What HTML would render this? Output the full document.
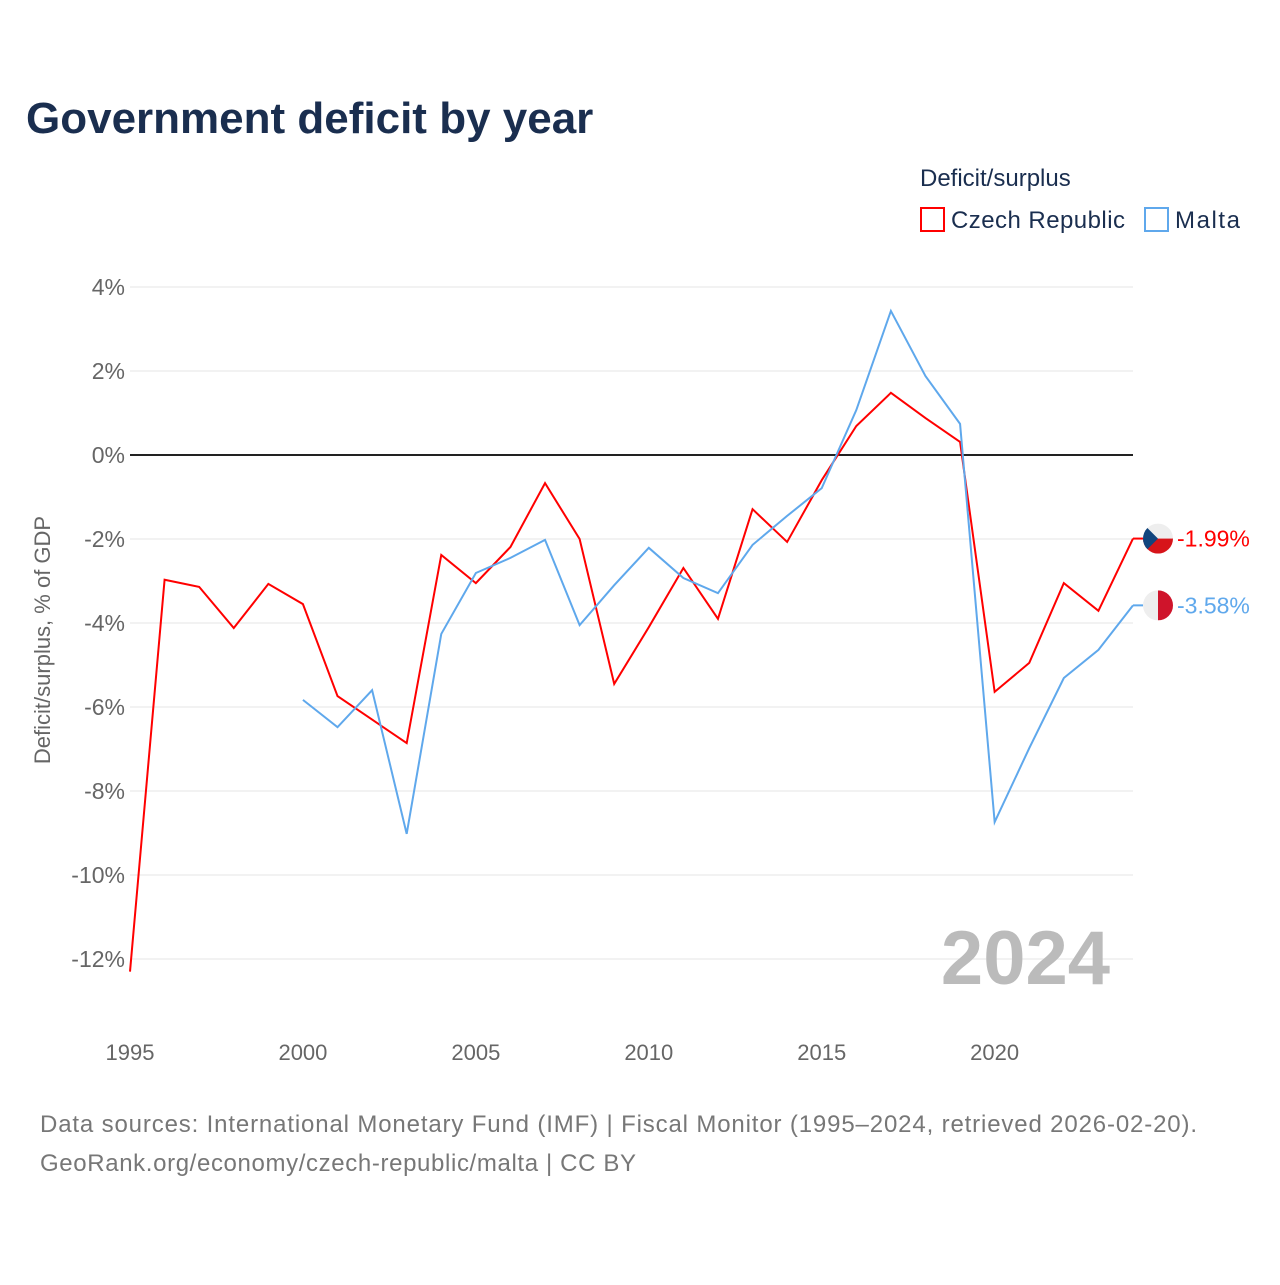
<!DOCTYPE html>
<html><head><meta charset="utf-8"><style>
body{margin:0;background:#fff;font-family:"Liberation Sans",sans-serif;}
#wrap{position:relative;width:1280px;height:1280px;}
</style></head><body>
<div id="wrap">
<svg id="svg" width="1280" height="1280">
<text x="26" y="133" font-size="44" font-weight="bold" fill="#1a2e4f">Government deficit by year</text>
<text x="920" y="186" font-size="24" fill="#1a2e4f">Deficit/surplus</text>
<g><rect x="921" y="208" width="23" height="23" fill="none" stroke="#ff0000" stroke-width="2"/><text x="951" y="228" font-size="24" fill="#1a2e4f" textLength="174">Czech Republic</text></g>
<g><rect x="1145" y="208" width="23" height="23" fill="none" stroke="#5fa8ec" stroke-width="2"/><text x="1175" y="228" font-size="24" fill="#1a2e4f" textLength="65">Malta</text></g>
<text transform="translate(50,640) rotate(-90)" text-anchor="middle" font-size="22" fill="#666">Deficit/surplus, % of GDP</text>
<g id="grid"></g><g id="lines"></g>
<text x="1110" y="984" text-anchor="end" font-size="76" font-weight="bold" fill="#bbb">2024</text>
<text x="40" y="1132" font-size="24" fill="#777" textLength="1157">Data sources: International Monetary Fund (IMF) | Fiscal Monitor (1995–2024, retrieved 2026-02-20).</text>
<text x="40" y="1171" font-size="24" fill="#777" textLength="596">GeoRank.org/economy/czech-republic/malta | CC BY</text>
</svg></div>
<script>
const years=[1995,1996,1997,1998,1999,2000,2001,2002,2003,2004,2005,2006,2007,2008,2009,2010,2011,2012,2013,2014,2015,2016,2017,2018,2019,2020,2021,2022,2023,2024];
const czech=[-12.3,-2.97,-3.14,-4.12,-3.07,-3.55,-5.74,-6.3,-6.86,-2.38,-3.05,-2.19,-0.67,-2.0,-5.45,-4.1,-2.69,-3.9,-1.29,-2.07,-0.6,0.69,1.48,0.88,0.31,-5.64,-4.95,-3.05,-3.71,-1.99];
const malta=[null,null,null,null,null,-5.83,-6.48,-5.6,-9.02,-4.26,-2.81,-2.45,-2.02,-4.05,-3.1,-2.21,-2.93,-3.29,-2.14,-1.45,-0.79,1.07,3.43,1.88,0.74,-8.74,-6.98,-5.31,-4.64,-3.58];
const yTicks=[4,2,0,-2,-4,-6,-8,-10,-12];
const xTicks=[1995,2000,2005,2010,2015,2020];
const NS="http://www.w3.org/2000/svg";
const X=y=>130+(y-1995)*(1003/29), Y=v=>455-v*42;
function mk(t,a,p){const e=document.createElementNS(NS,t);for(const k in a)e.setAttribute(k,a[k]);p.appendChild(e);return e;}
const g=document.getElementById('grid'),L=document.getElementById('lines');
yTicks.forEach(v=>{
 const l=mk('line',{x1:130,x2:1133,y1:Y(v),y2:Y(v),stroke:v===0?'#222':'#e6e6e6','stroke-width':v===0?2:1},g);
 
 
 const t=mk('text',{x:125,y:Y(v)+8,'text-anchor':'end','font-size':23,fill:'#666'},g);t.textContent=v+'%';
 
 
});
xTicks.forEach(v=>{const t=mk('text',{x:X(v),y:1060,'text-anchor':'middle','font-size':22,fill:'#666'},g);t.textContent=v;
 
 });
function line(arr,col,name){let d='';arr.forEach((v,i)=>{if(v==null)return;d+=(d?'L':'M')+X(years[i])+','+Y(v);});
 const p=mk('path',{d:d,fill:'none',stroke:col,'stroke-width':2},L);
 
 }
line(czech,'#ff0000','czech-line');line(malta,'#5fa8ec','malta-line');
function end(arr,col,name,flag){const v=arr[arr.length-1],x=X(2024),y=Y(v);
 mk('line',{x1:x,x2:x+10,y1:y,y2:y,stroke:col,'stroke-width':2},L);
 const cx=x+25;const gg=mk('g',{},L);
 
 
 mk('clipPath',{id:'c'+name},gg);mk('circle',{cx:cx,cy:y,r:15},gg.lastChild);
 const inner=mk('g',{'clip-path':'url(#c'+name+')'},gg);
 if(flag==='cz'){mk('rect',{x:cx-15,y:y-15,width:30,height:15,fill:'#eee'},inner);mk('rect',{x:cx-15,y:y,width:30,height:15,fill:'#d7141a'},inner);mk('path',{d:`M${cx-15},${y-15}L${cx},${y}L${cx-15},${y+15}Z`,fill:'#11457e'},inner);}
 else{mk('rect',{x:cx-15,y:y-15,width:15,height:30,fill:'#eee'},inner);mk('rect',{x:cx,y:y-15,width:15,height:30,fill:'#cf142b'},inner);}
 const t=mk('text',{x:cx+19,y:y+8,'font-size':23,fill:col},L);t.textContent=v.toFixed(2)+'%';
 
 }
end(czech,'#ff0000','czech','cz');end(malta,'#5fa8ec','malta','mt');
</script></body></html>
